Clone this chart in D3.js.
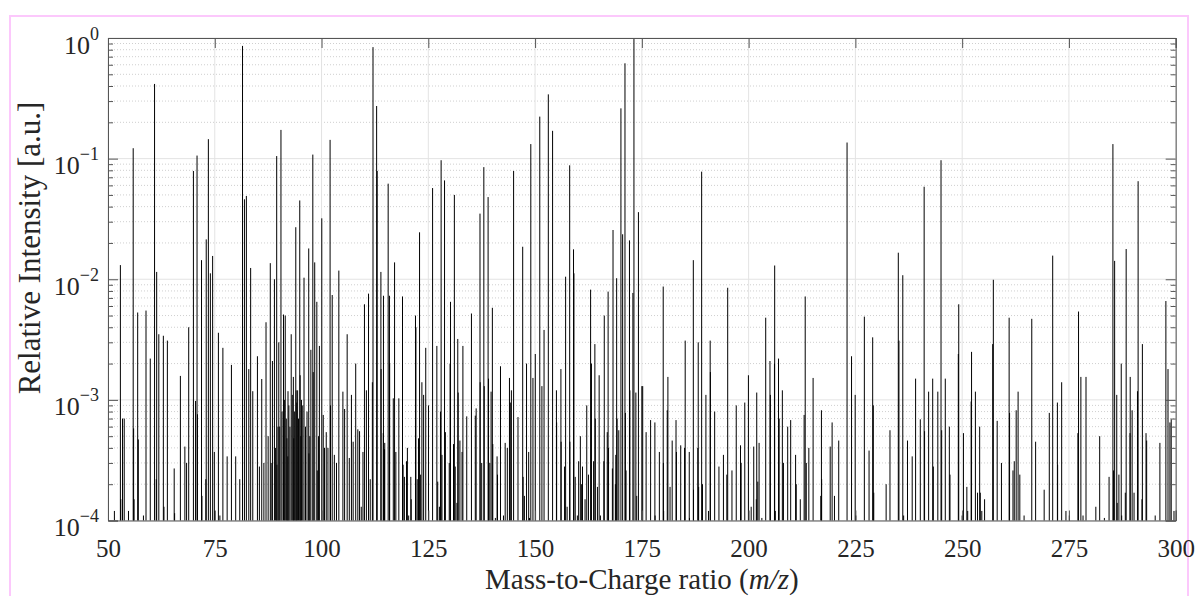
<!DOCTYPE html>
<html><head><meta charset="utf-8">
<script src="https://cdn.jsdelivr.net/npm/d3@7"></script>
<style>
body{margin:0;background:#fff;}
svg{display:block;}
text{font-family:"Liberation Serif","Times New Roman",serif;}
</style></head><body>
<svg id="chart" width="1198" height="596"></svg>
<script>
// ---- data (m/z positions and relative intensities) ----
const mz = [
 51.5,52.9,53.0,53.4,53.8,54.8,55.9,56.0,56.1,56.95,57.1,58.3,58.9,59.9,60.9,61.3,61.4,61.9,62.96,63.1,63.9,65.5,65.6,66.95,68.0,68.4,68.9,70.0,70.5,70.85,70.95,71.9,72.0,72.9,73.0,73.5,73.97,74.5,74.9,75.0,75.85,76.2,76.9,77.9,78.9,79.9,80.85,
 81.5,81.95,82.4,82.97,83.4,83.9,84.99,85.45,86.0,86.5,87.0,87.5,88.0,88.2,88.5,88.97,89.2,89.5,89.55,89.8,89.99,90.2,90.5,90.75,91.1,91.3,91.5,91.75,91.9,92.1,92.15,92.35,92.6,92.9,93.15,93.4,93.5,93.7,93.97,94.05,94.2,94.4,94.6,94.9,95.0,95.15,95.3,95.6,95.9,96.25,96.6,97.0,97.05,97.25,97.5,97.96,98.05,98.4,98.9,99.0,99.3,99.5,100.06,100.4,100.7,101.1,101.5,102.0,102.1,102.5,103.0,103.5,104.05,105.0,105.4,106.0,106.5,107.0,107.4,108.0,108.5,108.9,109.3,109.7,110.05,110.5,111.0,111.4,111.9,112.05,
 112.9,113.03,113.9,113.95,114.45,114.5,114.75,114.8,115.6,115.9,115.95,116.8,117.1,117.4,118.1,118.96,119.1,119.4,119.9,120.1,120.4,120.9,121.0,122.0,122.1,122.4,122.7,122.95,123.2,123.5,123.9,124.4,125.05,126.0,127.0,127.2,127.6,127.85,128.0,128.2,128.8,129.0,129.9,130.1,130.2,130.9,131.1,131.3,131.7,131.9,132.0,132.4,132.9,133.1,134.0,135.1,136.0,136.2,137.1,137.15,137.5,138.0,138.1,139.0,139.1,139.4,139.7,140.0,140.1,140.7,141.1,141.2,141.9,142.6,143.0,143.5,144.0,
 144.2,144.45,144.97,146.0,147.1,147.2,147.5,148.0,148.5,148.7,149.0,149.5,150.05,151.1,151.6,152.1,153.1,154.1,155.0,155.05,156.05,156.1,156.9,157.15,157.5,158.1,158.15,159.0,159.1,159.4,159.9,160.2,160.6,160.9,161.1,161.7,162.1,162.5,163.0,163.2,163.7,164.0,164.1,164.6,165.0,165.3,166.1,166.2,166.9,167.1,167.2,168.1,168.25,168.8,168.9,169.1,169.2,169.6,170.1,170.5,171.05,171.15,171.3,172.1,172.2,172.9,173.15,173.6,173.8,174.2,175.0,175.2,
 176.0,177.05,178.05,178.1,179.1,180.0,180.05,180.1,180.95,181.1,181.6,182.1,183.0,183.1,184.1,185.0,185.15,186.1,186.15,187.05,187.1,188.1,188.2,188.3,189.0,189.2,190.0,190.6,191.0,191.05,192.05,193.05,194.1,194.9,195.1,196.1,197.1,198.1,198.25,199.1,199.95,200.6,201.2,201.8,201.9,202.15,202.45,203.1,204.0,205.0,205.1,206.05,206.1,206.25,207.0,207.15,
 207.9,208.15,209.15,209.85,211.0,211.15,212.1,213.0,213.25,213.5,214.1,215.1,216.9,217.05,217.1,219.1,219.55,220.1,221.1,223.05,224.1,224.95,225.1,227.1,228.2,229.05,229.2,229.3,232.2,233.1,235.05,235.2,236.1,236.3,237.2,238.3,
 239.1,240.2,241.1,241.2,242.15,243.1,243.25,244.3,245.05,245.2,246.05,247.0,247.15,249.1,249.2,250.0,250.3,251.1,251.3,252.1,252.2,253.1,253.6,254.1,254.25,254.6,255.25,257.15,257.3,258.2,259.2,261.0,261.1,261.9,262.2,262.65,263.1,263.5,264.5,266.3,267.2,269.2,270.4,
 271.2,272.3,272.35,273.3,274.3,275.1,277.1,277.25,277.8,278.3,279.0,281.3,282.2,283.3,284.4,285.3,285.45,285.7,286.2,286.3,286.7,287.25,287.35,288.2,288.4,289.3,289.35,289.8,290.25,291.05,291.2,292.1,292.2,293.05,293.2,295.2,296.3,297.7,298.2,298.65,298.95,299.6
];
const intensity = [
 1.2e-4,0.0131,1.5e-4,7.0e-4,7.0e-4,1.2e-4,0.122,5.8e-4,1.5e-4,0.0053,4.7e-4,1.1e-4,0.0055,0.0022,0.416,2.2e-4,0.0115,0.0035,0.0034,1.3e-4,0.0031,2.7e-4,1.15e-4,0.00158,4.1e-4,3.0e-4,0.0040,0.079,9.8e-4,0.106,7.6e-4,0.0144,1.6e-4,2.2e-4,0.0214,0.145,0.0112,0.0156,3.7e-4,1.2e-4,0.0036,1.1e-4,0.0027,3.4e-4,0.00195,3.4e-4,2.2e-4,
 0.86,0.046,0.049,0.0018,0.0124,0.00118,0.0023,2.8e-4,0.00149,3e-4,0.0044,5e-4,0.0136,3e-4,0.0021,0.0100,4e-4,0.105,2.9e-4,6e-4,0.0030,6e-4,0.173,8e-4,0.0051,1.0e-3,0.0050,7e-4,4.8e-4,3.4e-4,0.00118,9e-4,6e-4,0.0035,1.1e-3,0.00155,4.8e-4,8e-4,0.027,0.0012,9.5e-4,0.0012,7e-4,0.045,0.0016,5e-4,0.0010,9e-4,0.0103,6e-4,8e-4,0.018,3.6e-4,5e-4,0.0026,0.108,0.0017,0.0138,0.0065,2.6e-4,5e-4,0.0028,0.032,7.5e-4,4e-4,5.4e-4,4.0e-4,0.143,9.0e-4,0.0074,3.5e-4,3e-4,0.0118,0.00117,8.4e-4,0.0035,3.3e-4,0.0011,4.5e-4,0.0020,5.7e-4,5.5e-4,1.3e-4,3.7e-4,0.0062,0.0012,0.0076,2.2e-4,0.0014,0.84,
 0.273,0.079,0.0115,0.0018,5.3e-4,0.0073,3.9e-4,4.4e-4,0.062,0.0073,0.0020,0.00103,0.0138,3.7e-4,0.00103,0.0072,2.9e-4,2.3e-4,3.1e-4,4.0e-4,1.1e-4,2.3e-4,1.5e-4,0.0050,0.0040,2.2e-4,4.8e-4,0.0245,2.4e-4,0.0014,0.0011,0.0027,9e-4,0.057,0.0028,2.1e-4,1.3e-4,8e-4,0.097,3.5e-4,0.066,5.4e-4,3e-4,0.0020,0.0065,4.3e-4,0.050,2.8e-4,1.4e-4,0.0032,0.00115,4.6e-4,3.7e-4,0.0028,7.3e-4,0.0052,7.4e-4,8.5e-4,0.035,0.0014,3e-4,0.085,0.0013,0.048,0.0015,3e-4,0.00117,0.0058,4.3e-4,1.05e-4,3.4e-4,2.4e-4,0.0019,1.1e-4,4.4e-4,4.0e-4,0.00152,
 9.5e-4,0.0012,0.079,7.2e-4,0.0186,2.3e-4,1.6e-4,0.0020,3.7e-4,1.05e-4,0.132,0.00152,0.0024,0.223,0.0013,0.0038,0.341,0.17,0.0012,6.5e-4,0.0018,4.5e-4,2.8e-4,0.0105,1.3e-4,0.088,4.5e-4,0.0177,0.0112,2.3e-4,1.1e-4,3.1e-4,5.0e-4,2.0e-4,2.8e-4,1.5e-4,9e-4,2.4e-4,0.0082,0.0020,3.1e-4,0.0029,7e-4,1.9e-4,0.0016,1.1e-4,3.1e-4,0.0050,5.4e-4,0.0079,4e-4,2.7e-4,0.0256,2.0e-4,3.5e-4,0.0102,7e-4,5.6e-4,0.261,0.0236,0.617,7.8e-4,2.6e-4,0.021,0.0012,0.0077,0.98,0.00115,1.6e-4,0.036,0.0013,0.0013,
 5.4e-4,6.8e-4,6.5e-4,1.1e-4,3.7e-4,0.0087,3e-4,1.2e-4,8.2e-4,0.00155,1.9e-4,4.6e-4,6.8e-4,3.7e-4,4.2e-4,4.0e-4,0.0031,3.7e-4,1.05e-4,0.0144,1.8e-4,4e-4,0.0030,1.9e-4,0.078,2.0e-4,0.0011,1.2e-4,0.0031,0.0017,8e-4,2.8e-4,3.5e-4,2.4e-4,0.0085,2.6e-4,9e-4,4.2e-4,3e-4,9.5e-4,0.0016,1.3e-4,4.1e-4,1.5e-4,0.00115,2.1e-4,4.4e-4,1.05e-4,0.0048,0.0021,0.0011,0.0020,0.013,1.2e-4,0.0022,7e-4,
 0.0012,3e-4,6e-4,6.8e-4,3.5e-4,2.0e-4,1.5e-4,7.5e-4,0.0072,3e-4,4e-4,0.00152,1.6e-4,8.2e-4,2.2e-4,4.1e-4,6.5e-4,1.6e-4,4.6e-4,0.136,0.0023,0.0011,1.1e-4,0.0049,3.8e-4,0.0033,9e-4,1.7e-4,2.0e-4,5.6e-4,0.0166,0.0031,0.0108,1.1e-4,4.6e-4,3.4e-4,
 0.0015,6.9e-4,0.0585,5.5e-4,0.00117,0.0015,2.8e-4,0.00117,0.097,5.6e-4,0.0015,6e-4,2.4e-4,0.0024,0.0062,1.1e-4,5.3e-4,1.9e-4,1.2e-4,9.7e-4,0.0025,0.00117,1.7e-4,6e-4,1.7e-4,1.2e-4,1.5e-4,0.0029,0.0099,6.7e-4,3e-4,0.0048,7.8e-4,2.6e-4,3.1e-4,8.2e-4,0.00117,2.4e-4,1.1e-4,0.0047,4.5e-4,1.8e-4,7.8e-4,
 0.0157,9.5e-4,2.9e-4,0.0014,1.2e-4,1.1e-4,5.3e-4,0.0054,0.00155,1.1e-4,0.00155,1.3e-4,5e-4,1.05e-4,2.3e-4,0.132,2.6e-4,0.0142,0.0011,1.4e-4,2.4e-4,0.0020,1.1e-4,1.7e-4,0.0178,5.3e-4,0.00155,8.2e-4,1.7e-4,0.00118,0.065,1.5e-4,0.0029,5.3e-4,4.6e-4,1.1e-4,4.4e-4,0.0066,0.0018,6.5e-4,6.9e-4,1.2e-4
];
const xTicks = [50,75,100,125,150,175,200,225,250,275,300];
const yTicks = [1e-4,1e-3,1e-2,1e-1,1];
const yTickExp = ["\u22124","\u22123","\u22122","\u22121","0"];
const xDomain = [50,300];
const yDomain = [1e-4,1];

// ---- layout ----
const svg = d3.select("#chart");
const L = 108, R = 1175.7, T = 38, B = 520.5;
const x = d3.scaleLinear().domain(xDomain).range([L,R]);
const y = d3.scaleLog().domain(yDomain).range([B,T]);

svg.append("rect").attr("width",1198).attr("height",596).attr("fill","#fff");
svg.append("rect").attr("x",10).attr("y",16).attr("width",1178).attr("height",620)
  .attr("fill","none").attr("stroke","#fcc8fc").attr("stroke-width",2);

// minor values
const minor = [];
for (let e=-4;e<0;e++) for (let k=2;k<=9;k++) minor.push(k*Math.pow(10,e));

// grid
const grid = svg.append("g");
grid.selectAll(".mg").data(minor).join("line")
  .attr("x1",L).attr("x2",R).attr("y1",d=>y(d)).attr("y2",d=>y(d))
  .attr("stroke","#cfcfcf").attr("stroke-width",1).attr("stroke-dasharray","1,2");
grid.selectAll(".gy").data(yTicks).join("line")
  .attr("x1",L).attr("x2",R).attr("y1",d=>y(d)).attr("y2",d=>y(d))
  .attr("stroke","#e3e3e3").attr("stroke-width",1);
grid.selectAll(".gx").data(xTicks).join("line")
  .attr("x1",d=>x(d)).attr("x2",d=>x(d)).attr("y1",T).attr("y2",B)
  .attr("stroke","#e3e3e3").attr("stroke-width",1);

// stems
const peaks = mz.map((m,i)=>({m, v: intensity[i]}));
svg.append("g").selectAll("line").data(peaks).join("line")
  .attr("x1",d=>x(d.m)).attr("x2",d=>x(d.m))
  .attr("y1",B).attr("y2",d=>y(Math.max(d.v,1e-4)))
  .attr("stroke","#000").attr("stroke-width",1);

// axes
const axCol = "#555";
const fontTick = 25;
const gB = svg.append("g").attr("transform",`translate(0,${B})`)
  .call(d3.axisBottom(x).tickValues(xTicks).tickSize(-10).tickPadding(19).tickFormat(d3.format("d")));
const gT = svg.append("g").attr("transform",`translate(0,${T})`)
  .call(d3.axisTop(x).tickValues(xTicks).tickSize(-10).tickFormat(""));
const gL = svg.append("g").attr("transform",`translate(${L},0)`)
  .call(d3.axisLeft(y).tickValues(yTicks).tickSize(-10).tickPadding(9).tickFormat(""));
const gLm = svg.append("g").attr("transform",`translate(${L},0)`)
  .call(d3.axisLeft(y).tickValues(minor).tickSize(-5).tickFormat(""));
const gR = svg.append("g").attr("transform",`translate(${R},0)`)
  .call(d3.axisRight(y).tickValues(yTicks).tickSize(-10).tickFormat(""));
const gRm = svg.append("g").attr("transform",`translate(${R},0)`)
  .call(d3.axisRight(y).tickValues(minor).tickSize(-5).tickFormat(""));
[gB,gT,gL,gLm,gR,gRm].forEach(g=>{
  g.select(".domain").attr("stroke",axCol).attr("stroke-width",1);
  g.selectAll(".tick line").attr("stroke",axCol);
});
gLm.select(".domain").remove(); gRm.select(".domain").remove();
gB.selectAll("text").attr("fill","#262626").attr("font-size",fontTick)
  .attr("font-family","'Liberation Serif',serif");

// y tick labels with superscripts
gL.selectAll(".tick text").each(function(d,i){
  const t = d3.select(this).attr("fill","#262626").attr("font-size",26)
    .attr("font-family","'Liberation Serif',serif").attr("dy","0.58em").text(null);
  t.append("tspan").text("10");
  t.append("tspan").attr("font-size",18).attr("dy",-14).text(yTickExp[yTicks.indexOf(d)]);
});

// axis labels
const xl = svg.append("text").attr("x",(L+R)/2).attr("y",589).attr("text-anchor","middle")
  .attr("font-size",29).attr("fill","#262626");
xl.append("tspan").text("Mass-to-Charge ratio (");
xl.append("tspan").attr("font-style","italic").text("m/z");
xl.append("tspan").text(")");
svg.append("text").attr("transform",`translate(40,248) rotate(-90)`)
  .attr("text-anchor","middle").attr("font-size",31).attr("fill","#262626")
  .text("Relative Intensity [a.u.]");
</script>
</body></html>
